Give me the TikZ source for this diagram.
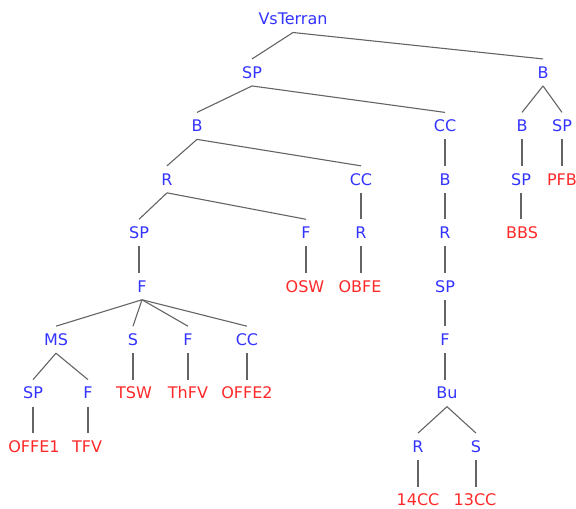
\documentclass[tikz,border=0pt]{standalone}
\usepackage{fontspec}
\setmainfont{DejaVu Sans}
\definecolor{inner}{RGB}{51,51,255}
\definecolor{leaf}{RGB}{255,40,40}
\definecolor{edgegray}{RGB}{100,100,100}
\begin{document}
\begin{tikzpicture}[x=1pt,y=-1pt,
  lbl/.style={inner xsep=0pt,inner ysep=7.5pt,text height=11.6pt,text depth=0pt,
    font=\fontsize{16}{18}\selectfont},
  nt/.style={lbl,text=inner},
  lf/.style={lbl,text=leaf},
  br/.style={draw=edgegray,line width=1.1pt}]
\useasboundingbox (0,0) rectangle (576,509);
\def\L#1{19+53.45*#1}
% level 0
\node[nt] (root) at (293,{\L0}) {VsTerran};
% level 1
\node[nt] (sp1) at (252,{\L1}) {SP};
\node[nt] (b1) at (543,{\L1}) {B};
% level 2
\node[nt] (b2) at (197,{\L2}) {B};
\node[nt] (cc2) at (445,{\L2}) {CC};
\node[nt] (b2r) at (522,{\L2}) {B};
\node[nt] (sp2r) at (562,{\L2}) {SP};
% level 3
\node[nt] (r3) at (167,{\L3}) {R};
\node[nt] (cc3) at (361,{\L3}) {CC};
\node[nt] (b3) at (445,{\L3}) {B};
\node[nt] (sp3r) at (521,{\L3}) {SP};
\node[lf] (pfb) at (562,{\L3}) {PFB};
% level 4
\node[nt] (sp4) at (139,{\L4}) {SP};
\node[nt] (f4) at (306,{\L4}) {F};
\node[nt] (r4a) at (361,{\L4}) {R};
\node[nt] (r4b) at (445,{\L4}) {R};
\node[lf] (bbs) at (522,{\L4}) {BBS};
% level 5
\node[nt] (f5) at (142,{\L5}) {F};
\node[lf] (osw) at (305,{\L5}) {OSW};
\node[lf] (obfe) at (360,{\L5}) {OBFE};
\node[nt] (sp5) at (445,{\L5}) {SP};
% level 6
\node[nt] (ms) at (56,{\L6}) {MS};
\node[nt] (s6) at (133,{\L6}) {S};
\node[nt] (f6a) at (188,{\L6}) {F};
\node[nt] (cc6) at (247,{\L6}) {CC};
\node[nt] (f6b) at (445,{\L6}) {F};
% level 7
\node[nt] (sp7) at (33,{\L7}) {SP};
\node[nt] (f7) at (88,{\L7}) {F};
\node[lf] (tsw) at (134,{\L7}) {TSW};
\node[lf] (thfv) at (188,{\L7}) {ThFV};
\node[lf] (offe2) at (247,{\L7}) {OFFE2};
\node[nt] (bu) at (447,{\L7}) {Bu};
% level 8
\node[lf] (offe1) at (34,{\L8}) {OFFE1};
\node[lf] (tfv) at (87,{\L8}) {TFV};
\node[nt] (r8) at (418,{\L8}) {R};
\node[nt] (s8) at (476,{\L8}) {S};
% level 9
\node[lf] (c14) at (418,{\L9}) {14CC};
\node[lf] (c13) at (475,{\L9}) {13CC};
% branches to several children: slanted
\foreach \p/\c in {root/sp1,root/b1,sp1/b2,sp1/cc2,b2/r3,b2/cc3,r3/sp4,r3/f4,
  f5/ms,f5/s6,f5/f6a,f5/cc6,ms/sp7,ms/f7,bu/r8,bu/s8,b1/b2r,b1/sp2r}
  \draw[br] (\p.south) -- (\c.north);
% single-child branches: vertical below the parent
\foreach \p/\c in {sp4/f5,sp7/offe1,f7/tfv,s6/tsw,f6a/thfv,cc6/offe2,f4/osw,
  cc3/r4a,r4a/obfe,cc2/b3,b3/r4b,r4b/sp5,sp5/f6b,f6b/bu,r8/c14,s8/c13,
  b2r/sp3r,sp3r/bbs,sp2r/pfb}
  \draw[br] (\p.south) -- (\p.south |- \c.north);
\end{tikzpicture}
\end{document}
